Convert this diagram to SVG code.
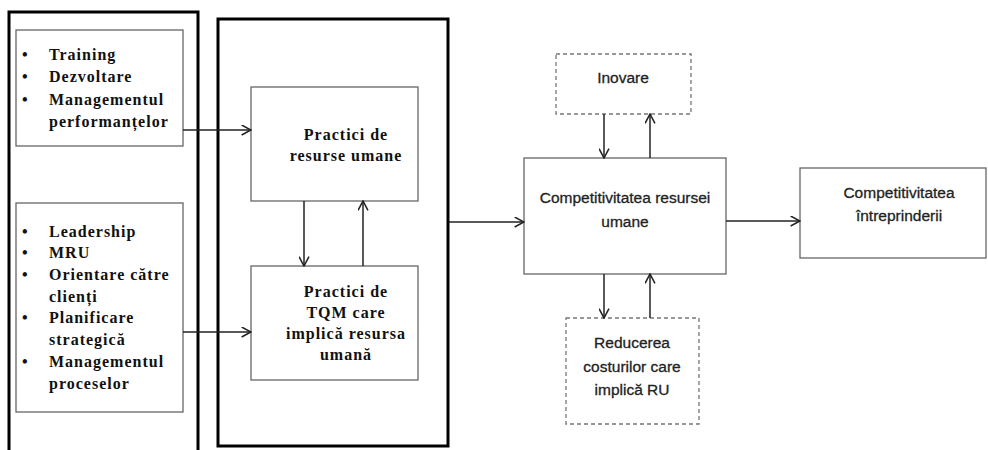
<svg xmlns="http://www.w3.org/2000/svg" width="988" height="450" viewBox="0 0 988 450">
  <style>
    .frame { fill: none; stroke: #000; stroke-width: 3; }
    .box { fill: #fff; stroke: #666; stroke-width: 1.3; }
    .dash { fill: #fff; stroke: #777; stroke-width: 1.3; stroke-dasharray: 4 3; }
    .link { fill: none; stroke: #222; stroke-width: 1.5; }
    .serif { font-family: "Liberation Serif", "Times New Roman", serif; font-weight: bold; font-size: 16px; letter-spacing: 1px; fill: #111; }
    .sans { font-family: "Liberation Sans", Arial, sans-serif; font-size: 15.5px; fill: #222; stroke: #222; stroke-width: 0.3; }
  </style>
  <defs>
    <marker id="arr" viewBox="0 0 10 10" refX="9.5" refY="5" markerWidth="11" markerHeight="11" markerUnits="userSpaceOnUse" orient="auto">
      <path d="M1,0.5 L9.5,5 L1,9.5" fill="none" stroke="#222" stroke-width="1.4"/>
    </marker>
  </defs>
  <rect width="988" height="450" fill="#fff"/>

  <!-- outer frames -->
  <g id="frame-left">
    <path class="frame" d="M9,452 V12 H198 V452"/>
  </g>
  <g id="frame-middle">
    <rect class="frame" x="218" y="19" width="230" height="427"/>
  </g>

  <!-- input lists -->
  <g id="hr-inputs">
    <rect class="box" x="16" y="30" width="167" height="116"/>
    <g class="serif">
      <text x="22" y="60">•</text><text x="49" y="60">Training</text>
      <text x="22" y="82">•</text><text x="49" y="82">Dezvoltare</text>
      <text x="22" y="105">•</text><text x="49" y="105">Managementul</text>
      <text x="49" y="127">performanțelor</text>
    </g>
  </g>
  <g id="tqm-inputs">
    <rect class="box" x="16" y="203" width="167" height="209"/>
    <g class="serif">
      <text x="22" y="237">•</text><text x="49" y="237">Leadership</text>
      <text x="22" y="258">•</text><text x="49" y="258">MRU</text>
      <text x="22" y="280">•</text><text x="49" y="280">Orientare către</text>
      <text x="49" y="302">clienți</text>
      <text x="22" y="323">•</text><text x="49" y="323">Planificare</text>
      <text x="49" y="345">strategică</text>
      <text x="22" y="367">•</text><text x="49" y="367">Managementul</text>
      <text x="49" y="389">proceselor</text>
    </g>
  </g>

  <!-- practices -->
  <g id="hr-practices">
    <rect class="box" x="251" y="87" width="167" height="114"/>
    <g class="serif" text-anchor="middle">
      <text x="346" y="140">Practici de</text>
      <text x="346" y="161">resurse umane</text>
    </g>
  </g>
  <g id="tqm-practices">
    <rect class="box" x="251" y="266" width="167" height="114"/>
    <g class="serif" text-anchor="middle">
      <text x="346" y="297">Practici de</text>
      <text x="346" y="318">TQM care</text>
      <text x="346" y="339">implică resursa</text>
      <text x="346" y="360">umană</text>
    </g>
  </g>

  <!-- outcomes -->
  <g id="innovation">
    <rect class="dash" x="556" y="54" width="135" height="60"/>
    <text class="sans" x="623" y="83" text-anchor="middle">Inovare</text>
  </g>
  <g id="hr-competitiveness">
    <rect class="box" x="524" y="158" width="202" height="116"/>
    <g class="sans" text-anchor="middle">
      <text x="625" y="203">Competitivitatea resursei</text>
      <text x="625" y="227">umane</text>
    </g>
  </g>
  <g id="cost-reduction">
    <rect class="dash" x="566" y="318" width="133" height="106"/>
    <g class="sans" text-anchor="middle">
      <text x="632" y="348">Reducerea</text>
      <text x="632" y="372">costurilor care</text>
      <text x="632" y="395">implică RU</text>
    </g>
  </g>
  <g id="company-competitiveness">
    <rect class="box" x="800" y="168" width="186" height="90"/>
    <g class="sans" text-anchor="middle">
      <text x="899" y="198">Competitivitatea</text>
      <text x="899" y="221">întreprinderii</text>
    </g>
  </g>

  <!-- connectors -->
  <g id="connectors" class="link">
    <path d="M183,130 H251" marker-end="url(#arr)"/>
    <path d="M183,332 H251" marker-end="url(#arr)"/>
    <path d="M304,201 V266" marker-end="url(#arr)"/>
    <path d="M363,266 V201" marker-end="url(#arr)"/>
    <path d="M449,222 H524" marker-end="url(#arr)"/>
    <path d="M604,114 V158" marker-end="url(#arr)"/>
    <path d="M650,158 V114" marker-end="url(#arr)"/>
    <path d="M604,274 V318" marker-end="url(#arr)"/>
    <path d="M650,318 V274" marker-end="url(#arr)"/>
    <path d="M726,221 H800" marker-end="url(#arr)"/>
  </g>
</svg>
